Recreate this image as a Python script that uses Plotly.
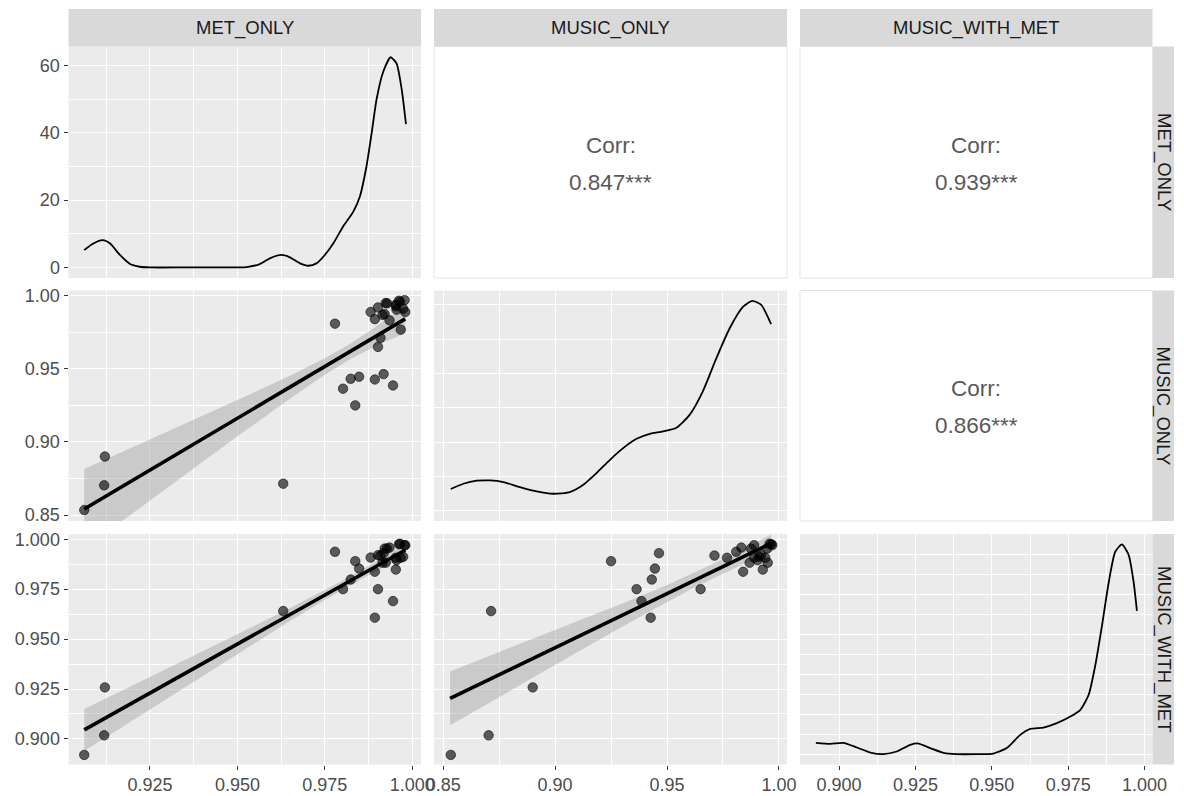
import plotly.graph_objects as go

# ---------------- data ----------------
variables = ["MET_ONLY", "MUSIC_ONLY", "MUSIC_WITH_MET"]

met_only = [0.9062, 0.9121, 0.9119, 0.9631, 0.9779, 0.9802, 0.9824, 0.9848, 0.9837, 0.9893,
            0.9918, 0.9945, 0.9902, 0.9909, 0.9967, 0.9893, 0.9953, 0.9881, 0.9902, 0.9921,
            0.9924, 0.9953, 0.9962, 0.9974, 0.9980, 0.9955, 0.9935, 0.9965, 0.9978, 0.9928, 0.9915]
music_only = [0.8534, 0.8900, 0.8703, 0.8714, 0.9809, 0.9364, 0.9432, 0.9446, 0.9250, 0.9427,
              0.9464, 0.9386, 0.9650, 0.9712, 0.9768, 0.9840, 0.9928, 0.9889, 0.9920, 0.9875,
              0.9950, 0.9939, 0.9966, 0.9911, 0.9889, 0.9905, 0.9832, 0.9958, 0.9970, 0.9948, 0.9869]
music_with_met = [0.8920, 0.9258, 0.9018, 0.9640, 0.9937, 0.9750, 0.9798, 0.9853, 0.9890, 0.9607,
                  0.9930, 0.9690, 0.9750, 0.9918, 0.9907, 0.9837, 0.9848, 0.9908, 0.9920, 0.9953,
                  0.9882, 0.9907, 0.9975, 0.9912, 0.9970, 0.9895, 0.9958, 0.9977, 0.9970, 0.9953, 0.9882]

# density curves (diagonal panels)
dens_met_x = [0.9062, 0.9088, 0.9115, 0.9136, 0.9164, 0.9193, 0.9221, 0.925, 0.935, 0.945, 0.9526,
              0.9564, 0.9593, 0.9626, 0.965, 0.9679, 0.9703, 0.9726, 0.975, 0.9774, 0.9802, 0.9831,
              0.985, 0.9869, 0.9884, 0.9898, 0.9917, 0.9938, 0.9955, 0.997, 0.9982]
dens_met_y = [5.15, 7.1, 8.1, 7.1, 3.7, 1.0, 0.2, 0.0, 0.0, 0.0, 0.1,
              1.0, 2.7, 3.7, 3.0, 1.2, 0.5, 1.2, 3.7, 7.1, 12.1, 16.5,
              21.0, 30.0, 40.0, 50.0, 58.2, 62.5, 60.7, 52.8, 42.6]

dens_music_x = [0.8534, 0.859, 0.865, 0.871, 0.8769, 0.8843, 0.8918, 0.8992, 0.9066, 0.9126, 0.9185,
                0.9245, 0.9304, 0.9364, 0.9423, 0.9482, 0.9542, 0.9601, 0.966, 0.972, 0.978, 0.9839,
                0.9881, 0.9921, 0.9965]
dens_music_y = [3.16, 3.93, 4.37, 4.41, 4.17, 3.45, 2.81, 2.47, 2.72, 3.78, 5.49,
                7.42, 9.12, 10.48, 11.2, 11.55, 12.1, 13.97, 17.4, 22.2, 26.6, 29.7,
                30.6, 30.0, 27.2]

dens_mwm_x = [0.8924, 0.8971, 0.9014, 0.9058, 0.9102, 0.9145, 0.9189, 0.9233, 0.926, 0.9298, 0.9342,
              0.9385, 0.945, 0.9505, 0.9549, 0.9593, 0.9626, 0.9669, 0.9713, 0.9757, 0.979, 0.9817,
              0.9839, 0.9861, 0.9883, 0.9904, 0.9926, 0.9948, 0.9964, 0.9975]
dens_mwm_y = [5.65, 5.15, 5.65, 3.3, 0.8, 0.0, 1.3, 4.65, 5.3, 3.0, 0.65,
              0.0, 0.0, 0.3, 3.0, 9.65, 12.65, 13.3, 15.5, 18.8, 22.2, 29.7,
              44.7, 64.7, 86.3, 101.3, 105.0, 99.7, 86.3, 71.7]

# linear fits with confidence bands
fit_met_x = [0.9062, 0.920, 0.935, 0.950, 0.965, 0.975, 0.982, 0.990, 0.998]
fit_met_music = [0.8541, 0.8737, 0.8949, 0.9162, 0.9374, 0.9516, 0.9615, 0.9728, 0.9842]
fit_met_music_lo = [0.8268, 0.8512, 0.8775, 0.9038, 0.9296, 0.9460, 0.9562, 0.9662, 0.9745]
fit_met_music_hi = [0.8814, 0.8962, 0.9123, 0.9286, 0.9452, 0.9572, 0.9668, 0.9794, 0.9935]
fit_met_mwm = [0.9045, 0.9180, 0.9328, 0.9475, 0.9622, 0.9720, 0.9789, 0.9867, 0.9946]
fit_met_mwm_lo = [0.8940, 0.9093, 0.9261, 0.9426, 0.9590, 0.9696, 0.9767, 0.9843, 0.9915]
fit_met_mwm_hi = [0.9150, 0.9267, 0.9395, 0.9524, 0.9654, 0.9744, 0.9811, 0.9892, 0.9977]

fit_music_x = [0.8531, 0.87, 0.89, 0.91, 0.93, 0.95, 0.965, 0.975, 0.985, 0.9965]
fit_music_mwm = [0.9203, 0.9295, 0.9403, 0.9511, 0.9620, 0.9728, 0.9810, 0.9864, 0.9918, 0.9980]
fit_music_mwm_lo = [0.9068, 0.9178, 0.9307, 0.9435, 0.9562, 0.9686, 0.9774, 0.9829, 0.9880, 0.9936]
fit_music_mwm_hi = [0.9338, 0.9412, 0.9499, 0.9587, 0.9678, 0.9771, 0.9846, 0.9899, 0.9956, 1.0024]

corr_labels = ["0.847***", "0.939***", "0.866***"]

# ticks
met_ticks = [0.925, 0.950, 0.975, 1.000]
met_ticktext = ["0.925", "0.950", "0.975", "1.000"]
met_minor = [0.9125, 0.9375, 0.9625, 0.9875]
music_ticks = [0.85, 0.90, 0.95, 1.00]
music_ticktext = ["0.85", "0.90", "0.95", "1.00"]
music_minor = [0.875, 0.925, 0.975]
mwm_ticks = [0.900, 0.925, 0.950, 0.975, 1.000]
mwm_ticktext = ["0.900", "0.925", "0.950", "0.975", "1.000"]
mwm_minor = [0.8875, 0.9125, 0.9375, 0.9625, 0.9875]
d1_ticks = [0, 20, 40, 60]
d1_minor = [10, 30, 50]
d2_ticks = [0, 10, 20, 30]
d2_minor = [5, 15, 25]
d3_ticks = [0, 20, 40, 60, 80, 100]
d3_minor = [10, 30, 50, 70, 90, 110]

# ---------------- layout geometry (page pixels) ----------------
OFF = 8                      # default body margin of the html page
W, H = 1184 - OFF, 796 - OFF  # figure size, so the page content lines up
cols = [(68.5, 421.0), (434.0, 787.0), (800.0, 1152.5)]
rows = [(46.5, 278.0), (290.5, 521.0), (534.0, 764.5)]
strip_top = (9.0, 46.5)
strip_right = (1152.5, 1174.0)

met_range = [0.9017, 1.0025]
music_range = [0.8459, 1.0036]
mwm_range = [0.8872, 1.0026]

FONT = "Liberation Sans, Arial, sans-serif"
BG = "#ebebeb"
GRID = "#ffffff"
TICK_SIZE = 18
STRIP_SIZE = 18.5
CORR_SIZE = 22.5


def px(x):
    return (x - OFF) / W


def py(y):
    return 1 - (y - OFF) / H


def xdom(c):
    a, b = cols[c]
    return [px(a), px(b)]


def ydom(r):
    t, b = rows[r]
    return [py(b), py(t)]


fig = go.Figure()

POINT = dict(color="rgba(0,0,0,0.62)", size=9.5, line=dict(color="rgba(0,0,0,0.55)", width=1))
BAND = "rgba(153,153,153,0.4)"


def scatter_panel(xa, ya, xs, ys, fx, fy, flo, fhi):
    fig.add_trace(go.Scatter(x=fx, y=flo, mode="lines", line=dict(width=0),
                             xaxis=xa, yaxis=ya, showlegend=False, hoverinfo="skip"))
    fig.add_trace(go.Scatter(x=fx, y=fhi, mode="lines", line=dict(width=0), fill="tonexty",
                             fillcolor=BAND, xaxis=xa, yaxis=ya, showlegend=False, hoverinfo="skip"))
    fig.add_trace(go.Scatter(x=xs, y=ys, mode="markers", marker=POINT,
                             xaxis=xa, yaxis=ya, showlegend=False))
    fig.add_trace(go.Scatter(x=[fx[0], fx[-1]], y=[fy[0], fy[-1]], mode="lines",
                             line=dict(color="black", width=3.6),
                             xaxis=xa, yaxis=ya, showlegend=False))


def density_panel(xa, ya, dx, dy):
    fig.add_trace(go.Scatter(x=dx, y=dy, mode="lines",
                             line=dict(color="black", width=1.8, shape="spline", smoothing=0.6),
                             xaxis=xa, yaxis=ya, showlegend=False))


# panels: 1=r1c1, 2=r2c1, 3=r2c2, 4=r3c1, 5=r3c2, 6=r3c3
density_panel("x", "y", dens_met_x, dens_met_y)
scatter_panel("x2", "y2", met_only, music_only, fit_met_x, fit_met_music, fit_met_music_lo, fit_met_music_hi)
density_panel("x3", "y3", dens_music_x, dens_music_y)
scatter_panel("x4", "y4", met_only, music_with_met, fit_met_x, fit_met_mwm, fit_met_mwm_lo, fit_met_mwm_hi)
scatter_panel("x5", "y5", music_only, music_with_met, fit_music_x, fit_music_mwm, fit_music_mwm_lo, fit_music_mwm_hi)
density_panel("x6", "y6", dens_mwm_x, dens_mwm_y)


def axis(dom, rng, ticks, minor, ticktext=None, labels=False):
    d = dict(domain=dom, range=rng, tickmode="array", tickvals=ticks, automargin=False,
             showgrid=True, gridcolor=GRID, gridwidth=1.4,
             zeroline=False, showline=False, fixedrange=True,
             minor=dict(tickmode="array", tickvals=minor, showgrid=True,
                        gridcolor=GRID, gridwidth=0.7, ticks=""),
             tickfont=dict(family=FONT, size=TICK_SIZE, color="#4d4d4d"))
    if labels:
        d.update(ticks="outside", ticklen=4, tickwidth=1.1, tickcolor="#333333",
                 showticklabels=True, ticktext=ticktext if ticktext else [str(t) for t in ticks])
    else:
        d.update(ticks="", showticklabels=False)
    return d


layout = dict(
    width=W, height=H, margin=dict(l=0, r=0, t=0, b=0, autoexpand=False),
    paper_bgcolor="white", plot_bgcolor=BG, showlegend=False,
    font=dict(family=FONT),
)
# x axes
layout["xaxis"] = axis(xdom(0), met_range, met_ticks, met_minor)
layout["xaxis2"] = axis(xdom(0), met_range, met_ticks, met_minor)
layout["xaxis3"] = axis(xdom(1), music_range, music_ticks, music_minor)
layout["xaxis4"] = axis(xdom(0), met_range, met_ticks, met_minor, met_ticktext, labels=True)
layout["xaxis5"] = axis(xdom(1), music_range, music_ticks, music_minor, music_ticktext, labels=True)
layout["xaxis6"] = axis(xdom(2), mwm_range, mwm_ticks, mwm_minor, mwm_ticktext, labels=True)
# y axes
layout["yaxis"] = axis(ydom(0), [-3.15, 65.7], d1_ticks, d1_minor, [str(t) for t in d1_ticks], labels=True)
layout["yaxis2"] = axis(ydom(1), music_range, music_ticks, music_minor, music_ticktext, labels=True)
layout["yaxis3"] = axis(ydom(1), [-1.5, 32.1], d2_ticks, d2_minor)
layout["yaxis4"] = axis(ydom(2), mwm_range, mwm_ticks, mwm_minor, mwm_ticktext, labels=True)
layout["yaxis5"] = axis(ydom(2), mwm_range, mwm_ticks, mwm_minor)
layout["yaxis6"] = axis(ydom(2), [-5.2, 110.2], d3_ticks, d3_minor)
for i, ax in zip(["", "2", "3", "4", "5", "6"], ["x", "x2", "x3", "x4", "x5", "x6"]):
    layout["yaxis" + i]["anchor"] = ax
    layout["xaxis" + i]["anchor"] = "y" + i if i else "y"
fig.update_layout(**layout)

shapes = []
annotations = []
# top strips
for c, name in enumerate(variables):
    a, b = cols[c]
    shapes.append(dict(type="rect", xref="paper", yref="paper", x0=px(a), x1=px(b),
                       y0=py(strip_top[1]), y1=py(strip_top[0]),
                       fillcolor="#d9d9d9", line=dict(width=0), layer="below"))
    annotations.append(dict(xref="paper", yref="paper", x=px((a + b) / 2),
                            y=py((strip_top[0] + strip_top[1]) / 2), text=name, showarrow=False,
                            font=dict(family=FONT, size=STRIP_SIZE, color="#1a1a1a"),
                            xanchor="center", yanchor="middle"))
# right strips
for r, name in enumerate(variables):
    t, b = rows[r]
    shapes.append(dict(type="rect", xref="paper", yref="paper", x0=px(strip_right[0]), x1=px(strip_right[1]),
                       y0=py(b), y1=py(t),
                       fillcolor="#d9d9d9", line=dict(width=0), layer="below"))
    annotations.append(dict(xref="paper", yref="paper", x=px((strip_right[0] + strip_right[1]) / 2),
                            y=py((t + b) / 2), text=name, showarrow=False, textangle=90,
                            font=dict(family=FONT, size=STRIP_SIZE, color="#1a1a1a"),
                            xanchor="center", yanchor="middle"))
# upper correlation panels
upper = [(0, 1, corr_labels[0]), (0, 2, corr_labels[1]), (1, 2, corr_labels[2])]
for r, c, lab in upper:
    a, b = cols[c]
    t, bt = rows[r]
    shapes.append(dict(type="rect", xref="paper", yref="paper", x0=px(a), x1=px(b),
                       y0=py(bt), y1=py(t),
                       fillcolor="white", line=dict(color="#e3e3e3", width=1), layer="below"))
    cx = px((a + b) / 2)
    cy = (t + bt) / 2
    annotations.append(dict(xref="paper", yref="paper", x=cx, y=py(cy - 17), text="Corr:",
                            showarrow=False, font=dict(family=FONT, size=CORR_SIZE, color="#595959"),
                            xanchor="center", yanchor="middle"))
    annotations.append(dict(xref="paper", yref="paper", x=cx, y=py(cy + 20), text=lab,
                            showarrow=False, font=dict(family=FONT, size=CORR_SIZE, color="#595959"),
                            xanchor="center", yanchor="middle"))
fig.update_layout(shapes=shapes, annotations=annotations)

fig.write_html("out.html")
